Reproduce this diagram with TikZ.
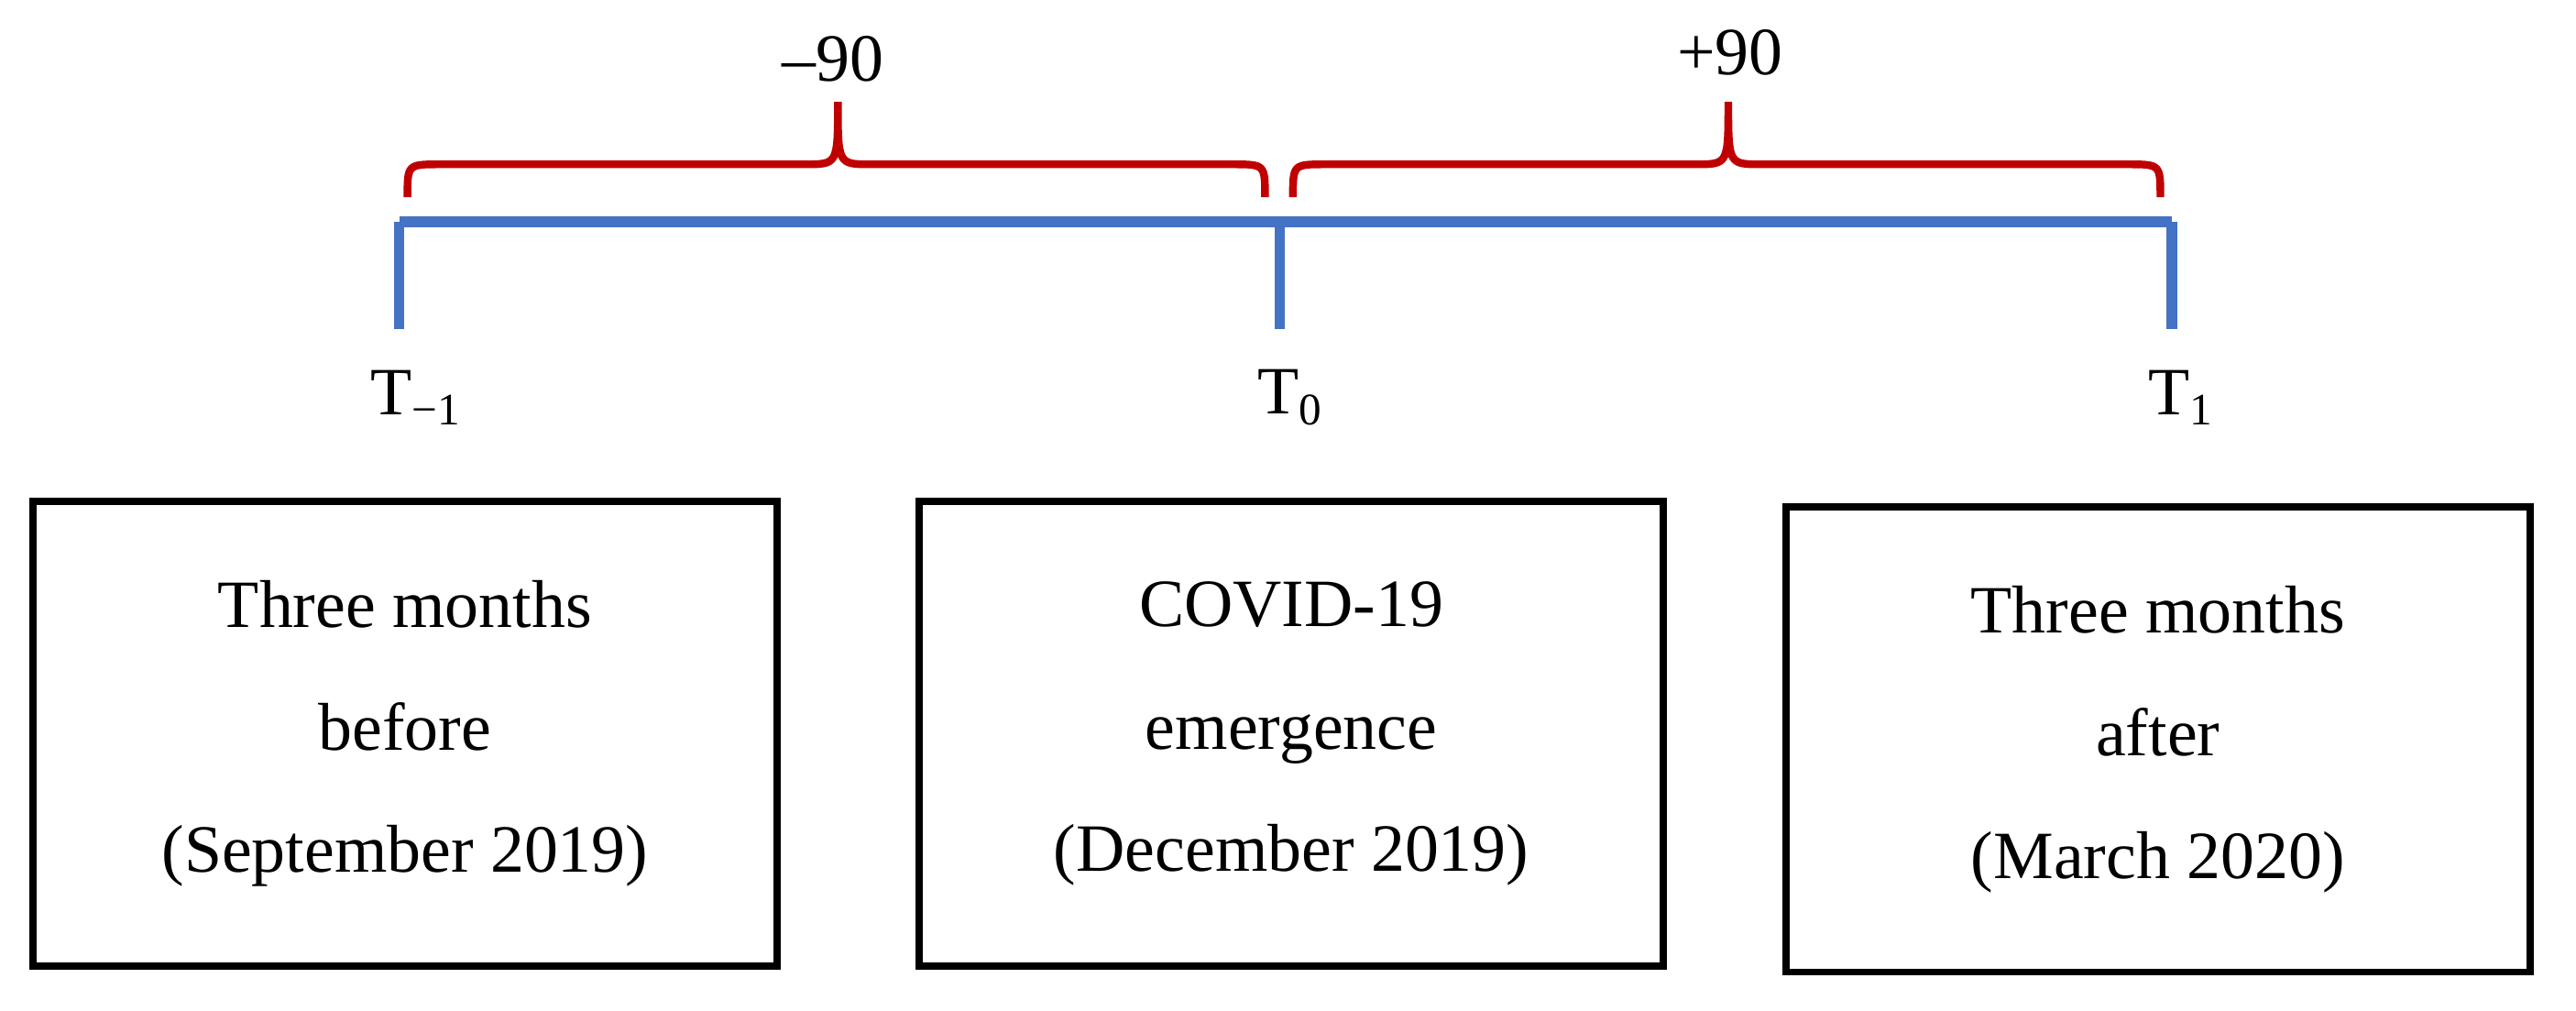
\documentclass[tikz,border=0pt]{standalone}
\usepackage{fontspec}
\setmainfont{Liberation Serif}
\definecolor{bl}{RGB}{68,114,196}
\definecolor{rd}{RGB}{192,0,0}
\newcommand{\sub}[1]{\raisebox{-0.35ex}{\fontsize{14pt}{14pt}\selectfont #1}}
\begin{document}
\begin{tikzpicture}[x=0.01793cm,y=-0.01793cm,
  box/.style={draw,line width=2.2pt,minimum width=453*0.01793cm,minimum height=283*0.01793cm,align=center,font=\fontsize{21pt}{38pt}\selectfont},
  lab/.style={font=\fontsize{21pt}{24pt}\selectfont},
  tl/.style={line width=3.2pt,bl},
  br/.style={line width=2.4pt,rd}]
\useasboundingbox (0,0) rectangle (1568,615);
\coordinate (a) at (243,135); \coordinate (b) at (779,135); \coordinate (c) at (1322,135);
\coordinate (a2) at (243,200); \coordinate (b2) at (779,200); \coordinate (c2) at (1322,200);
\draw[tl] (a) -- (c);
\draw[tl] (a) -- (a2); \draw[tl] (b) -- (b2); \draw[tl] (c) -- (c2);
\draw[br] (248,120) .. controls (248,100) .. (268,100) -- (490,100) .. controls (510,100) .. (510,62) .. controls (510,100) .. (530,100) -- (750,100) .. controls (770,100) .. (770,120);
\draw[br] (787,120) .. controls (787,100) .. (807,100) -- (1032,100) .. controls (1052,100) .. (1052,62) .. controls (1052,100) .. (1072,100) -- (1295,100) .. controls (1315,100) .. (1315,120);
\node[lab] (m) at (507,36) {–90};
\node[lab] (p) at (1053,32) {+90};
\node[lab] (t1) at (253,242) {T\sub{−1}};
\node[lab] (t0) at (785,242) {T\sub{0}};
\node[lab] (t2) at (1327,242) {T\sub{1}};
\node[box] (l) at (246.5,446.5) {Three months\\before\\(September 2019)};
\node[box] (mm) at (786,446.5) {COVID-19\\emergence\\(December 2019)};
\node[box] (r) at (1313.5,450) {Three months\\after\\(March 2020)};
\end{tikzpicture}
\end{document}
